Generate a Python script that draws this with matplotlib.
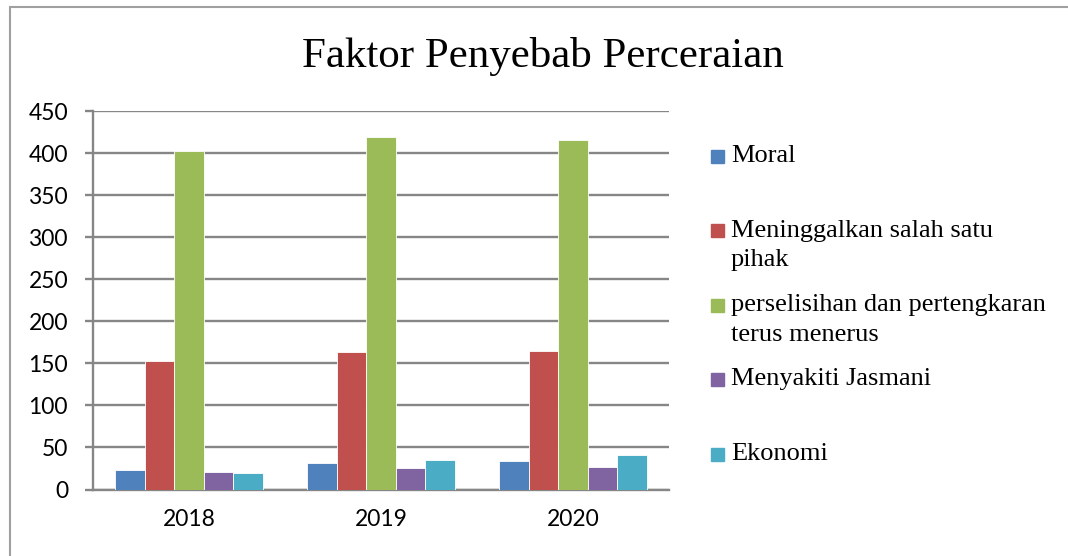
import matplotlib.pyplot as plt
import numpy as np
from matplotlib.patches import Rectangle

years = ["2018", "2019", "2020"]
series = ["Moral", "Meninggalkan salah satu\npihak",
          "perselisihan dan pertengkaran\nterus menerus",
          "Menyakiti Jasmani", "Ekonomi"]
moral = [23, 32, 34]
meninggalkan = [153, 164, 165]
perselisihan = [403, 419, 416]
menyakiti = [21, 26, 27]
ekonomi = [20, 35, 41]
values = [moral, meninggalkan, perselisihan, menyakiti, ekonomi]
colors = ["#4F81BD", "#C0504D", "#9BBB59", "#8064A2", "#4BACC6"]

W, H = 1068, 556
fig = plt.figure(figsize=(W / 100, H / 100), dpi=100)
ax = fig.add_axes([93 / W, 1 - 489.5 / H, 576 / W, 378.5 / H])

grey = "#868686"
x = np.arange(len(years))
bw = 0.154
for j, (vals, c) in enumerate(zip(values, colors)):
    ax.bar(x + (j - 2) * bw, vals, width=bw, color=c, edgecolor="white",
           linewidth=0.6, zorder=3)

ax.set_xlim(-0.5, 2.5)
ax.set_ylim(0, 450)
ax.set_yticks(range(0, 451, 50))
ax.set_xticks(x)
ax.set_xticklabels(years)
ax.yaxis.grid(True, color=grey, linewidth=1.7, zorder=0)
for s in ["top", "right"]:
    ax.spines[s].set_visible(False)
for s in ["left", "bottom"]:
    ax.spines[s].set_color(grey)
    ax.spines[s].set_linewidth(1.7)
ax.tick_params(axis="y", direction="out", length=6, width=1.7, color=grey,
               pad=12, labelsize=16.5)
ax.tick_params(axis="x", length=0, pad=14, labelsize=16.5)
for lab in ax.get_xticklabels() + ax.get_yticklabels():
    lab.set_fontfamily("Lato")

fig.text(0.508, 1 - 57 / H, "Faktor Penyebab Perceraian", ha="center",
         va="center", fontsize=31, fontfamily="Liberation Serif")

# legend drawn by hand: Excel aligns marker with the first text line
for i, (lab, c) in enumerate(zip(series, colors)):
    yc = 156 + 74.5 * i
    fig.add_artist(Rectangle((711 / W, 1 - (yc + 6.5) / H), 13 / W, 13 / H,
                             transform=fig.transFigure, color=c))
    fig.text(731 / W, 1 - (yc - 11) / H, lab, ha="left", va="top",
             fontsize=19, fontfamily="Liberation Serif", linespacing=1.45)

fig.add_artist(Rectangle((10 / W, -0.1), 1.2, 1 - 7 / H + 0.1,
                         transform=fig.transFigure, fill=False,
                         edgecolor="#a0a0a0", linewidth=1.5))

fig.savefig("out.png", dpi=100)
